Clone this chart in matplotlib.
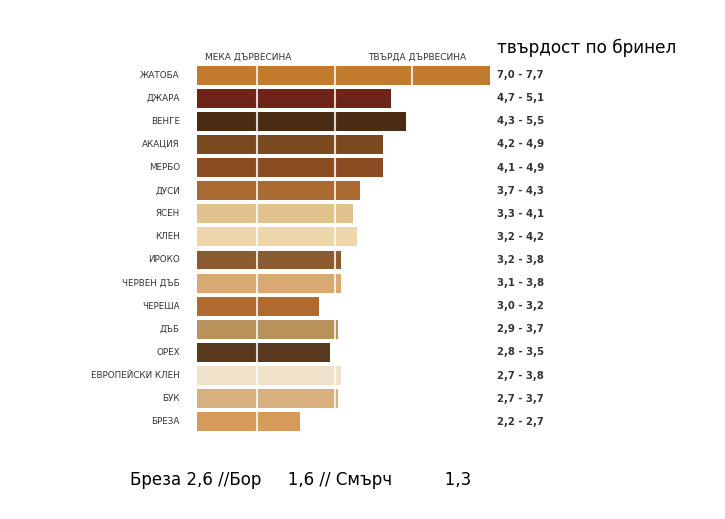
import matplotlib
matplotlib.use("Agg")
import matplotlib.pyplot as plt

woods = ["ЖАТОБА", "ДЖАРА", "ВЕНГЕ", "АКАЦИЯ", "МЕРБО", "ДУСИ", "ЯСЕН", "КЛЕН", "ИРОКО",
         "ЧЕРВЕН ДЪБ", "ЧЕРЕША", "ДЪБ", "ОРЕХ", "ЕВРОПЕЙСКИ КЛЕН", "БУК", "БРЕЗА"]
low = [7.0, 4.7, 4.3, 4.2, 4.1, 3.7, 3.3, 3.2, 3.2, 3.1, 3.0, 2.9, 2.8, 2.7, 2.7, 2.2]
high = [7.7, 5.1, 5.5, 4.9, 4.9, 4.3, 4.1, 4.2, 3.8, 3.8, 3.2, 3.7, 3.5, 3.8, 3.7, 2.7]
colors = ["#c27a2c", "#6e2418", "#4a2c14", "#7a4a1e", "#8c4c22", "#a86a30", "#e2c28c", "#ecd6aa",
          "#8a5a30", "#d8aa72", "#b06a30", "#b8925a", "#5a3a1e", "#f0e2ca", "#d8b080", "#d89a58"]
joints = [1.58, 3.63, 5.66]

fig = plt.figure(figsize=(7.25, 5.19), dpi=100)
W, H = 725, 519
ax = fig.add_axes([197 / W, (H - 460) / H, 528 / W, 400 / H])
ax.set_xlim(0, 528 / 38)
ax.set_ylim(16.65, -0.65)
ax.axis("off")
ys = list(range(len(woods)))
ax.barh(ys, high, height=0.82, color=colors, left=0)
for y, h in zip(ys, high):
    for j in joints:
        if j < h:
            ax.plot([j, j], [y - 0.41, y + 0.41], color="white", lw=1.5, alpha=0.8)
    ax.text(-0.45, y, woods[y], ha="right", va="center", fontsize=6.3, color="#333333")
    ax.text(7.9, y, f"{low[y]:.1f} - {high[y]:.1f}".replace(".", ","), ha="left", va="center",
            fontsize=7.3, fontweight="bold", color="#333333")

fig.text(205 / W, 1 - 57 / H, "МЕКА ДЪРВЕСИНА", fontsize=6.5, color="#333333", va="center")
fig.text(368 / W, 1 - 57 / H, "ТВЪРДА ДЪРВЕСИНА", fontsize=6.5, color="#333333", va="center")
fig.text(497 / W, 1 - 48 / H, "твърдост по бринел", fontsize=12.2, color="black", va="center")
fig.text(130 / W, 1 - 480 / H, "Бреза 2,6 //Бор     1,6 // Смърч          1,3", fontsize=12,
         color="black", va="center")
fig.savefig("out.png", dpi=100)
